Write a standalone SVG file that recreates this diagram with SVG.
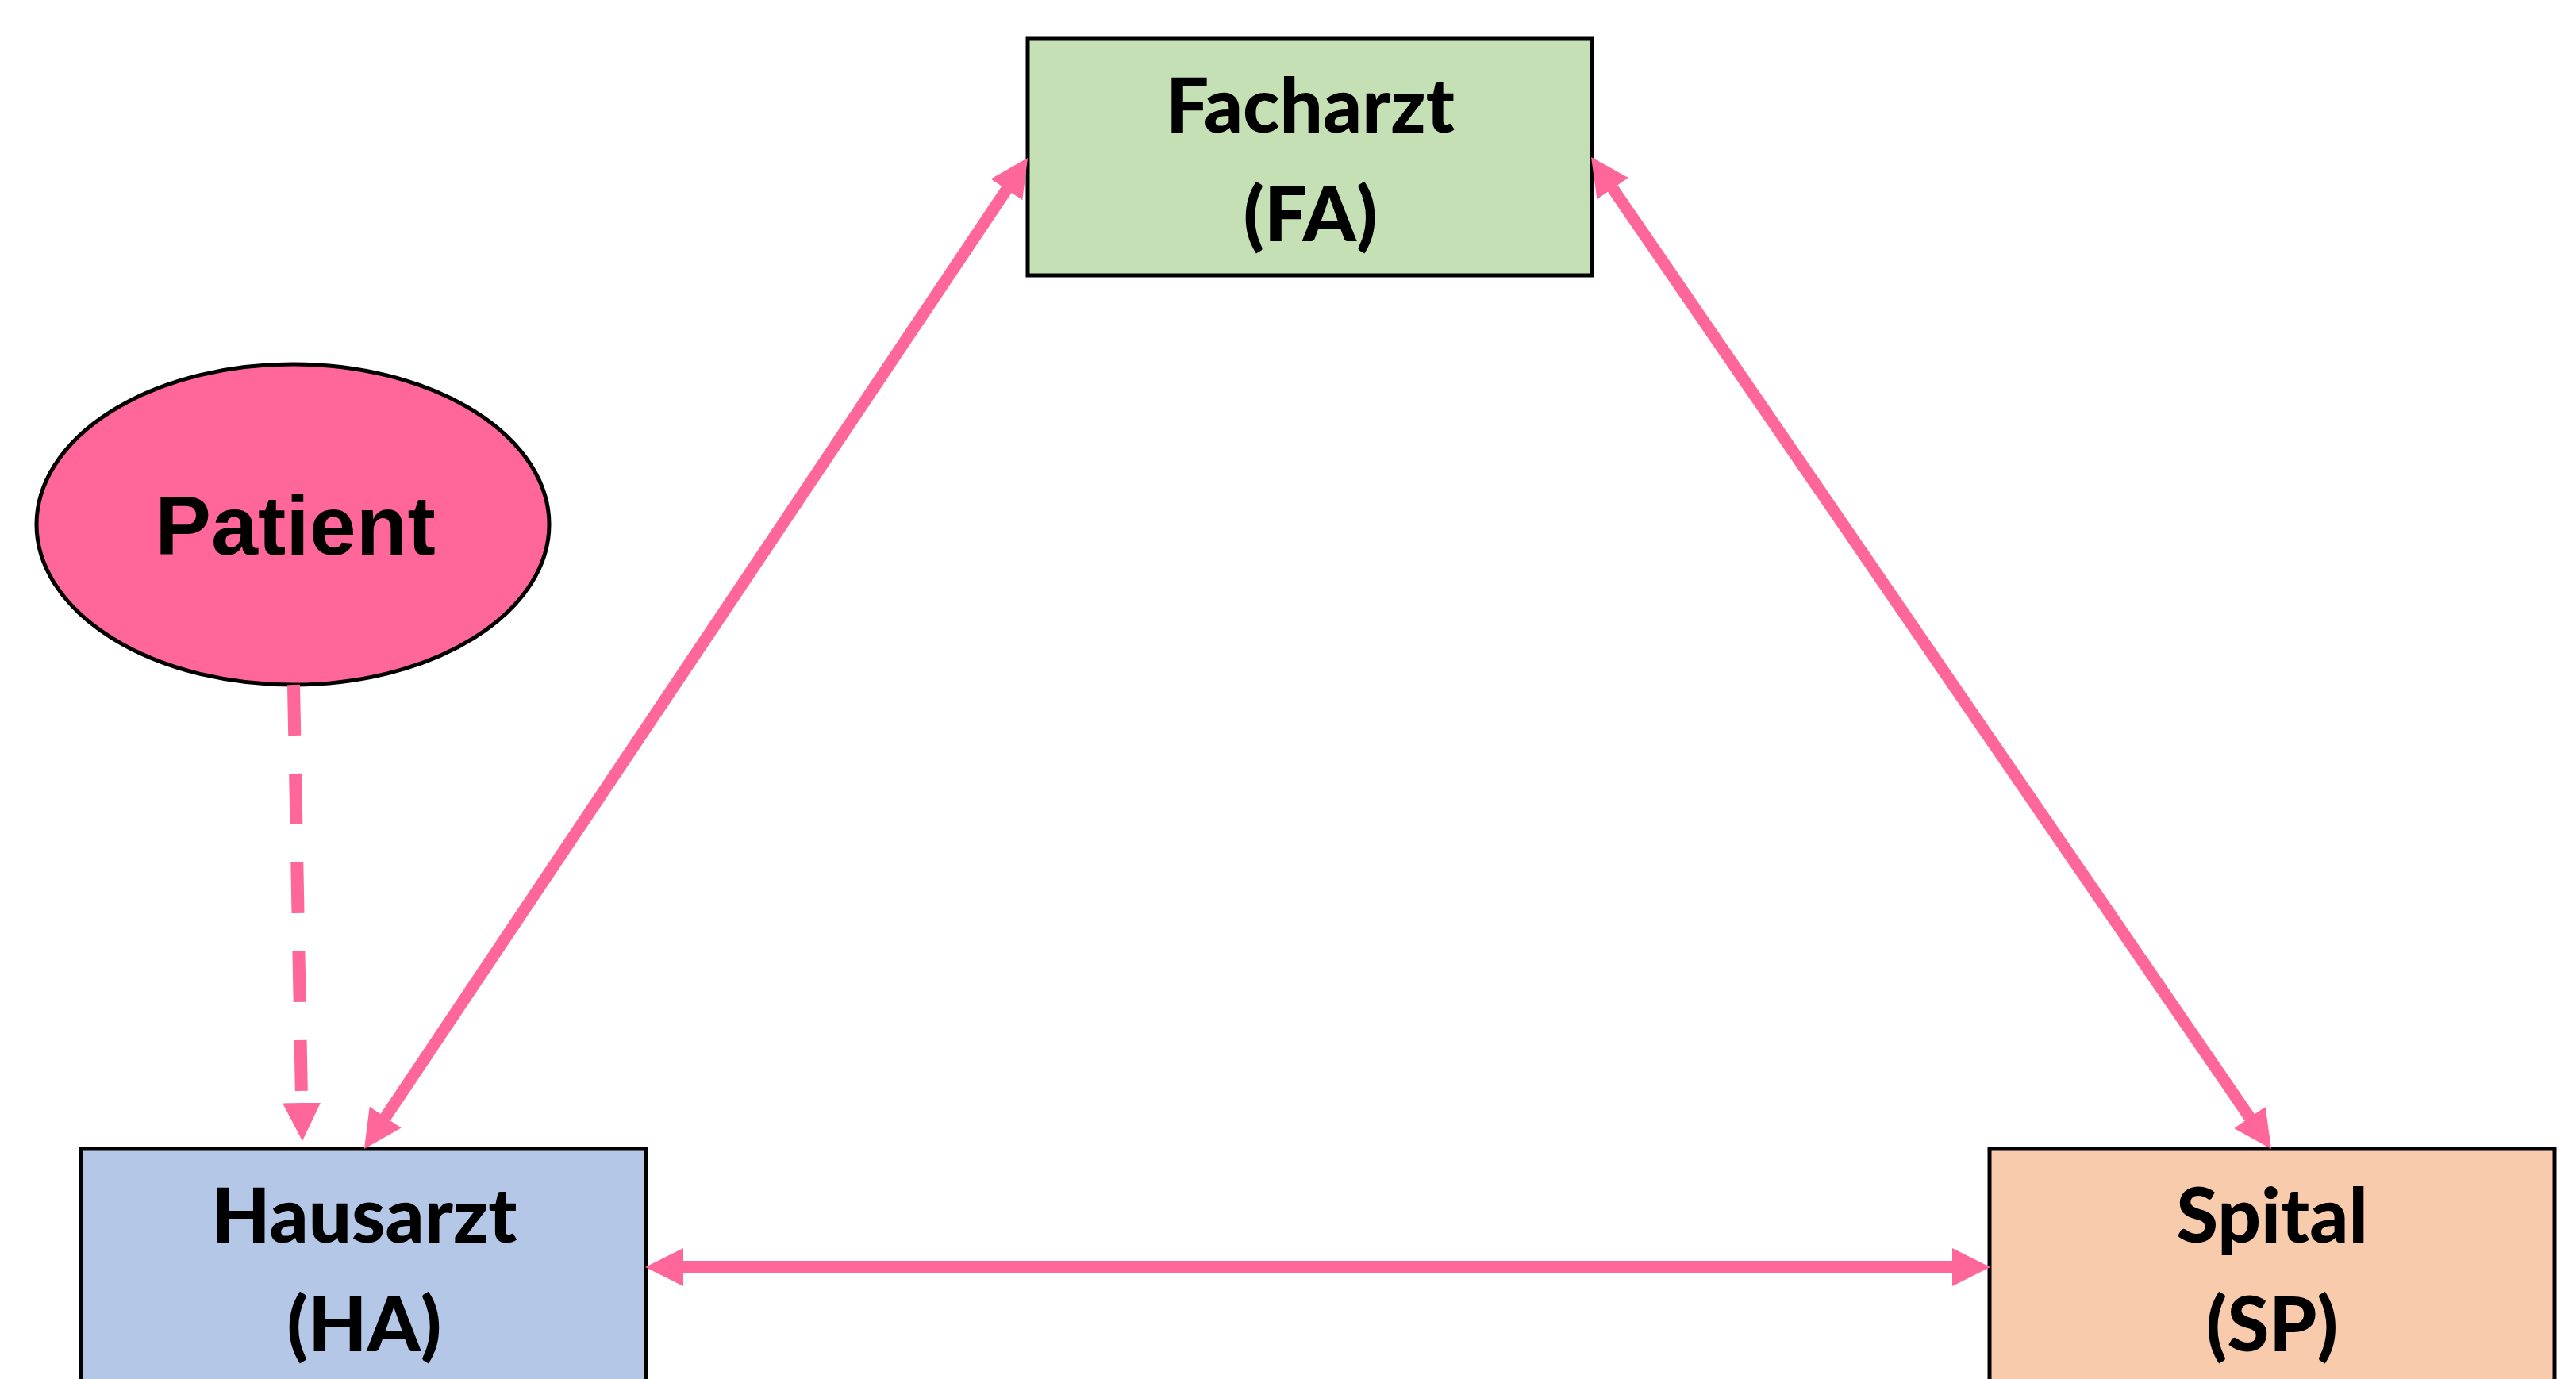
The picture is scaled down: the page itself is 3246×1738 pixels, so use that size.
<svg xmlns="http://www.w3.org/2000/svg" width="3246" height="1738" viewBox="0 0 3246 1738">
  <style>
    .box { stroke: #000000; stroke-width: 5; }
    .lbl { font-family: Lato, "Open Sans", "Liberation Sans", sans-serif; font-weight: 900; font-size: 96px; fill: #000000; text-anchor: middle; }
    .pat { font-family: "Liberation Sans", Arial, sans-serif; font-weight: 700; font-size: 106px; fill: #000000; text-anchor: middle; }
    .con { stroke: #FF6699; fill: none; stroke-linecap: butt; }
  </style>
  <defs>
    <marker id="ah" viewBox="0 0 48 48" refX="1" refY="24" markerWidth="48" markerHeight="48" markerUnits="userSpaceOnUse" orient="auto-start-reverse">
      <path d="M0,0 L48,24 L0,48 Z" fill="#FF6699"/>
    </marker>
  </defs>
  <rect x="0" y="0" width="3246" height="1738" fill="#FFFFFF"/>

  <g id="node-facharzt">
    <rect class="box" x="1295" y="49" width="711" height="298" fill="#C5E0B4"/>
    <text class="lbl" x="1651" y="167">Facharzt</text>
    <text class="lbl" x="1651" y="304">(FA)</text>
  </g>

  <g id="node-patient">
    <ellipse cx="369" cy="661" rx="323" ry="202" fill="#FF6699" stroke="#000000" stroke-width="5"/>
    <text class="pat" x="372" y="699">Patient</text>
  </g>

  <g id="node-hausarzt">
    <rect class="box" x="102" y="1448" width="712" height="310" fill="#B4C7E7"/>
    <text class="lbl" x="459" y="1566">Hausarzt</text>
    <text class="lbl" x="459" y="1703">(HA)</text>
  </g>

  <g id="node-spital">
    <rect class="box" x="2507" y="1448" width="712" height="310" fill="#F8CBAD"/>
    <text class="lbl" x="2863" y="1566">Spital</text>
    <text class="lbl" x="2863" y="1703">(SP)</text>
  </g>

  <g id="connectors">
    <line class="con" x1="485.1" y1="1408.9" x2="1268.9" y2="238.1" stroke-width="15" marker-start="url(#ah)" marker-end="url(#ah)"/>
    <line class="con" x1="2031.6" y1="236.8" x2="2835.4" y2="1409.2" stroke-width="15" marker-start="url(#ah)" marker-end="url(#ah)"/>
    <line class="con" x1="860" y1="1597" x2="2461" y2="1597" stroke-width="16" marker-start="url(#ah)" marker-end="url(#ah)"/>
    <line class="con" x1="370" y1="863" x2="380.1" y2="1391" stroke-width="16" stroke-dasharray="64 48" marker-end="url(#ah)"/>
  </g>
</svg>
